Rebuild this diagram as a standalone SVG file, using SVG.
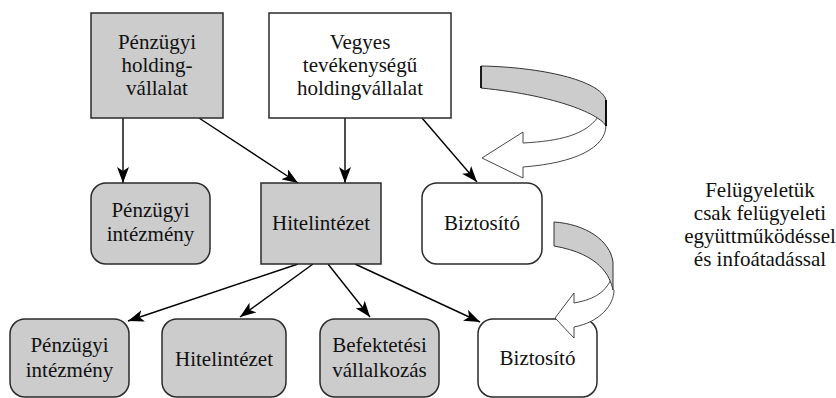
<svg xmlns="http://www.w3.org/2000/svg" width="836" height="398" viewBox="0 0 836 398">
<defs>
<style>
.box{fill:#cccccc;stroke:#2b2b2b;stroke-width:1.5}
.wbox{fill:#ffffff;stroke:#2b2b2b;stroke-width:1.5}
.t{font-family:"Liberation Serif","Times New Roman",serif;font-size:21px;fill:#111;text-anchor:middle}
.e{stroke:#000;stroke-width:1.4;fill:none;marker-end:url(#ah)}
.band{fill:#cccccc;stroke:#333;stroke-width:1}
.tail{fill:#ffffff;stroke:#333;stroke-width:0.9}
</style>
<marker id="ah" viewBox="0 0 16 12" refX="16" refY="6" markerWidth="16" markerHeight="12" orient="auto" markerUnits="userSpaceOnUse">
<path d="M0,0 L16,6 L0,12 L4,6 z" fill="#000"/>
</marker>
</defs>
<rect width="836" height="398" fill="#ffffff"/>

<g id="connectors">
<line class="e" x1="123" y1="118" x2="123" y2="183"/>
<line class="e" x1="199" y1="118" x2="298" y2="183"/>
<line class="e" x1="345" y1="118" x2="345" y2="183"/>
<line class="e" x1="422" y1="118" x2="477" y2="182"/>
<line class="e" x1="298" y1="264" x2="128" y2="321"/>
<line class="e" x1="313" y1="264" x2="240" y2="317"/>
<line class="e" x1="328" y1="264" x2="370" y2="317"/>
<line class="e" x1="355" y1="264" x2="480" y2="322"/>
</g>

<g id="penzugyi-holding">
<rect class="box" x="91" y="13" width="132" height="105"/>
<text class="t" x="157" y="49">Pénzügyi</text>
<text class="t" x="157" y="72">holding-</text>
<text class="t" x="157" y="95">vállalat</text>
</g>

<g id="vegyes-holding">
<rect class="wbox" x="269" y="13" width="182" height="105"/>
<text class="t" x="360" y="49">Vegyes</text>
<text class="t" x="360" y="72">tevékenységű</text>
<text class="t" x="360" y="95">holdingvállalat</text>
</g>

<g id="penzugyi-intezmeny-1">
<rect class="box" x="91" y="183" width="119" height="81" rx="15"/>
<text class="t" x="150.5" y="217">Pénzügyi</text>
<text class="t" x="150.5" y="241">intézmény</text>
</g>

<g id="hitelintezet-1">
<rect class="box" x="261" y="183" width="120" height="81"/>
<text class="t" x="321" y="230">Hitelintézet</text>
</g>

<g id="biztosito-1">
<rect class="wbox" x="422" y="183" width="120" height="81" rx="15"/>
<text class="t" x="482" y="230">Biztosító</text>
</g>

<g id="penzugyi-intezmeny-2">
<rect class="box" x="10" y="319" width="119" height="78" rx="15"/>
<text class="t" x="69.5" y="352">Pénzügyi</text>
<text class="t" x="69.5" y="377">intézmény</text>
</g>

<g id="hitelintezet-2">
<rect class="box" x="162" y="319" width="124" height="78" rx="15"/>
<text class="t" x="224" y="366">Hitelintézet</text>
</g>

<g id="befektetesi">
<rect class="box" x="320" y="319" width="119" height="78" rx="15"/>
<text class="t" x="379.5" y="352">Befektetési</text>
<text class="t" x="379.5" y="377">vállalkozás</text>
</g>

<g id="biztosito-2">
<rect class="wbox" x="478" y="319" width="119" height="78" rx="15"/>
<text class="t" x="537.5" y="365">Biztosító</text>
</g>

<g id="curved-arrow-1">
<path class="tail" d="M598,117 C585,135 560,141 523,143 L523,132 L482,158 L523,178 L523,167 C575,163 606,148 606,125"/>
<path class="band" d="M481,66 C540,67 600,80 606,100 L606,126 C600,115 560,96 481,88 Z"/>
<line x1="481" y1="66" x2="481" y2="88" stroke="#000" stroke-width="1.6"/>
<line x1="606" y1="100" x2="606" y2="126" stroke="#000" stroke-width="1.8"/>
</g>

<g id="curved-arrow-2">
<path class="tail" d="M612,277 C605,295 590,300 574,303 L574,293 L555,318 L574,338 L574,327 C600,322 614,305 614,290"/>
<path class="band" d="M554,222 C585,224 610,240 613,262 L613,290 C610,276 600,254 554,246 Z"/>
</g>

<g id="note">
<text class="t" x="760" y="197">Felügyeletük</text>
<text class="t" x="760" y="220">csak felügyeleti</text>
<text class="t" x="760" y="243">együttműködéssel</text>
<text class="t" x="760" y="266">és infoátadással</text>
</g>
</svg>
